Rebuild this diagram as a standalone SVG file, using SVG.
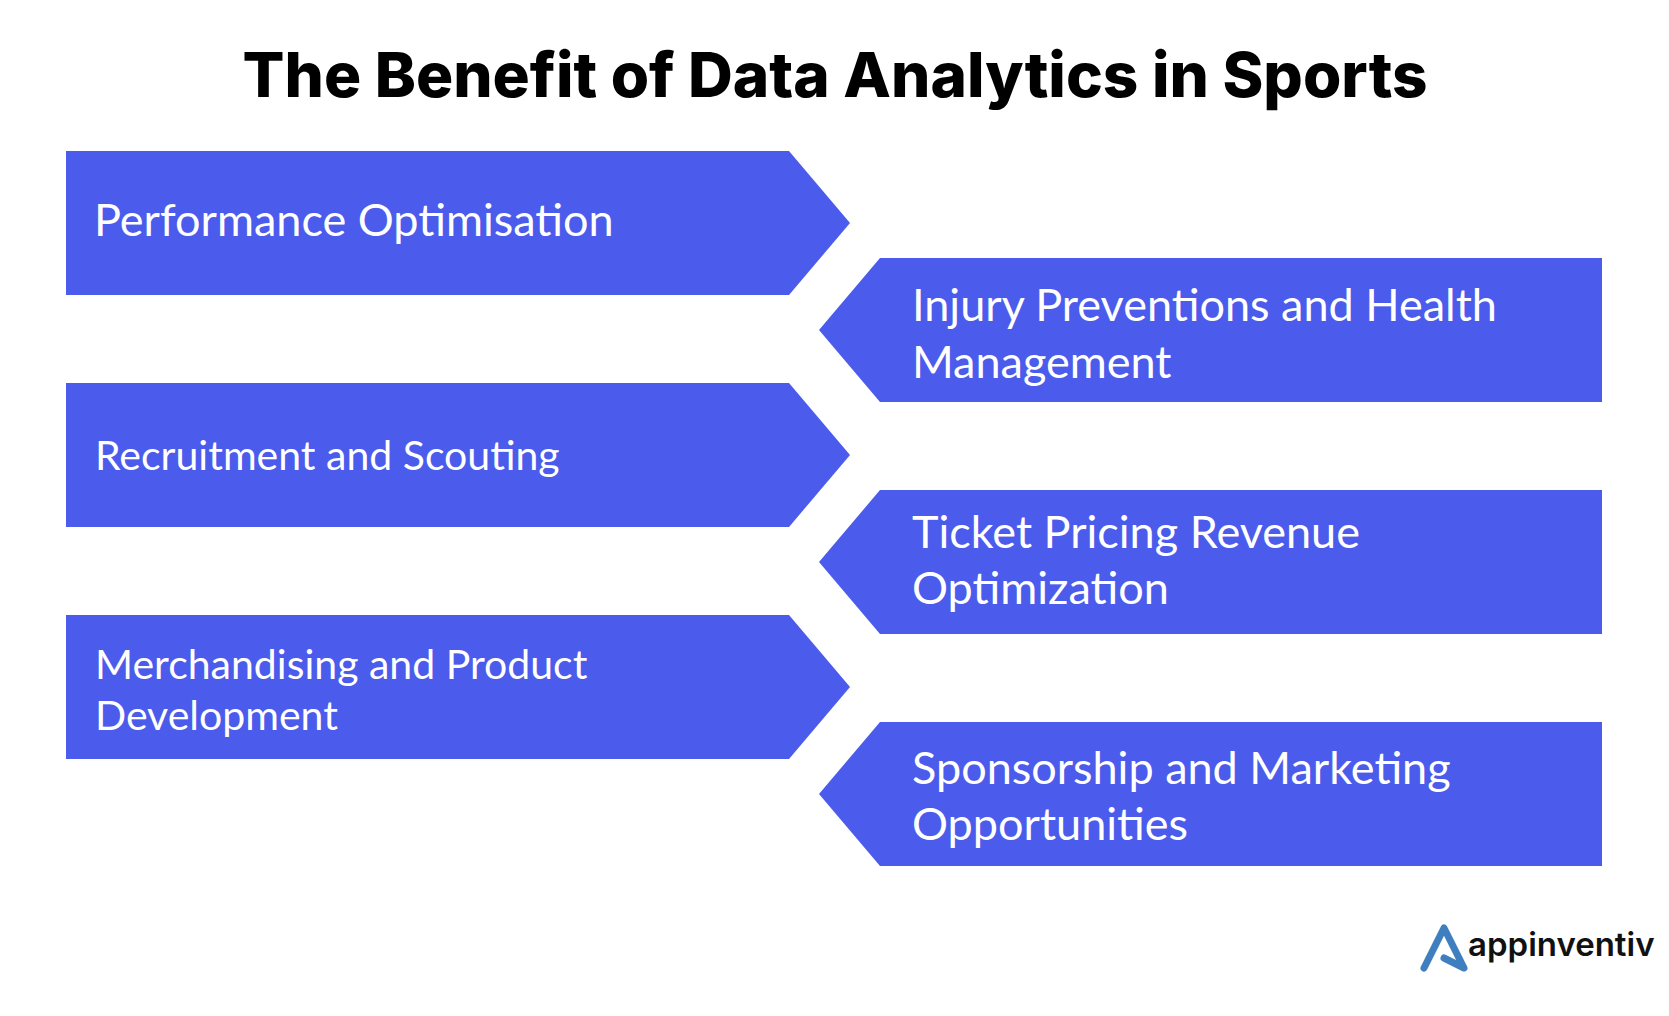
<svg xmlns="http://www.w3.org/2000/svg" width="1669" height="1016" viewBox="0 0 1669 1016">
<style>
.box{fill:#4b5bec}
.t{font-family:"Lato","Noto Sans",sans-serif;fill:#fff;font-size:45px}
.title{font-family:"Inter","Liberation Sans",sans-serif;font-weight:800;font-size:62px;fill:#000;text-anchor:middle}
.logo{font-family:"Inter","Liberation Sans",sans-serif;font-weight:600;font-size:33px;fill:#111}
</style>
<rect width="1669" height="1016" fill="#fff"/>
<text class="title" x="835" y="97">The Benefit of Data Analytics in Sports</text>
<g id="n1"><polygon class="box" points="66,151 789,151 850,223 789,295 66,295"/><text class="t" x="94" y="236">Performance Optimisation</text></g>
<g id="n2"><polygon class="box" points="1602,258 880,258 819,330 880,402 1602,402"/><text class="t" x="912" y="321">Injury Preventions and Health</text><text class="t" x="912" y="378">Management</text></g>
<g id="n3"><polygon class="box" points="66,383 789,383 850,455 789,527 66,527"/><text class="t" x="95" y="470" style="font-size:41px">Recruitment and Scouting</text></g>
<g id="n4"><polygon class="box" points="1602,490 880,490 819,562 880,634 1602,634"/><text class="t" x="912" y="548">Ticket Pricing Revenue</text><text class="t" x="912" y="604">Optimization</text></g>
<g id="n5"><polygon class="box" points="66,615 789,615 850,687 789,759 66,759"/><text class="t" x="95" y="679" style="font-size:41px">Merchandising and Product</text><text class="t" x="95" y="730" style="font-size:41px">Development</text></g>
<g id="n6"><polygon class="box" points="1602,722 880,722 819,794 880,866 1602,866"/><text class="t" x="912" y="784">Sponsorship and Marketing</text><text class="t" x="912" y="840">Opportunities</text></g>
<g id="logo"><path d="M1424 968 L1444 928 L1464 968 L1444 958" fill="none" stroke="#3f7fbf" stroke-width="7" stroke-linejoin="round" stroke-linecap="round"/><text class="logo" x="1468" y="956">appinventiv</text></g>
</svg>
